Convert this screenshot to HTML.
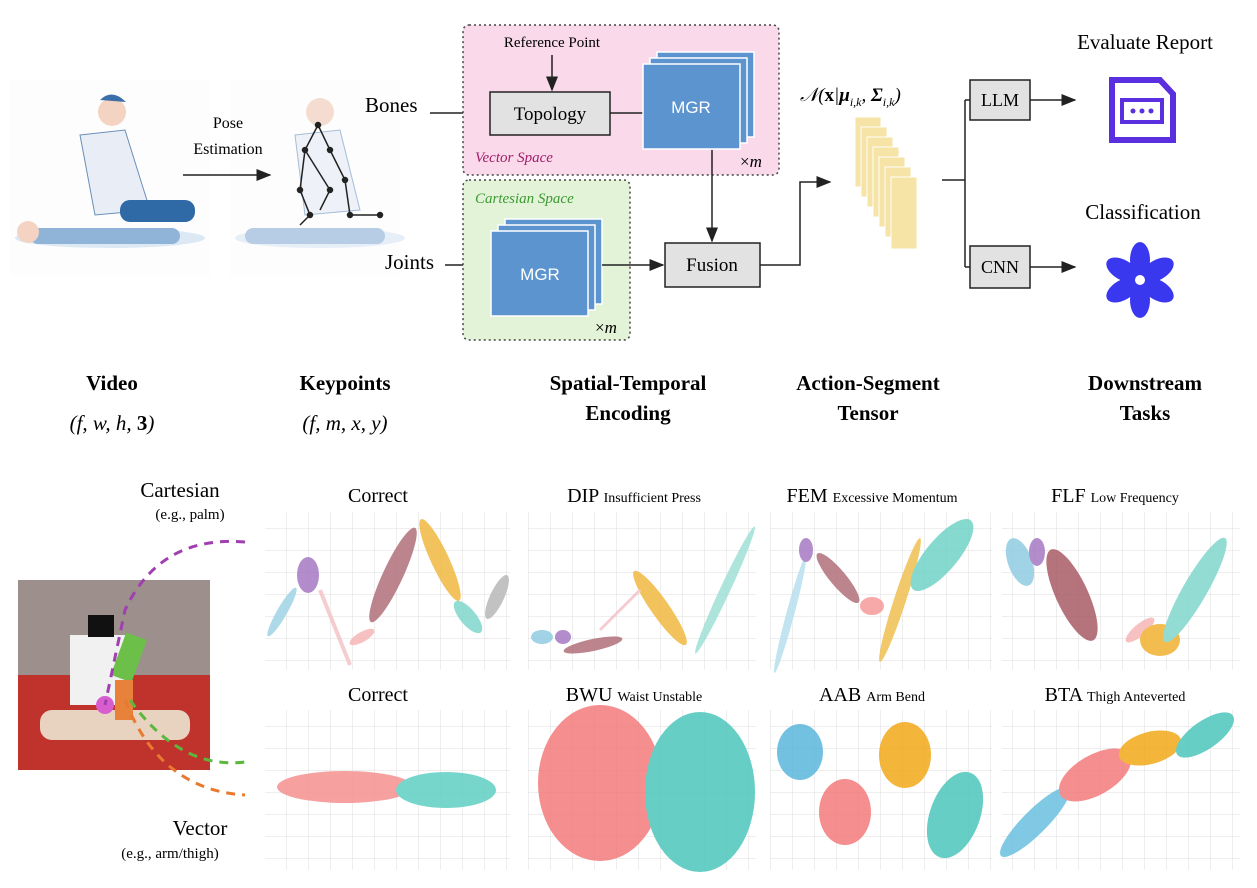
<!DOCTYPE html>
<html><head><meta charset="utf-8"><style>
body{margin:0;background:#fff;}
svg{display:block;font-family:"Liberation Serif",serif;}
.b{font-weight:bold;font-size:21px;}
</style></head><body>
<svg width="1257" height="888" viewBox="0 0 1257 888" xmlns="http://www.w3.org/2000/svg">
<defs>
<marker id="ar" markerWidth="10" markerHeight="10" refX="9" refY="5" orient="auto"><path d="M0,1 L10,5 L0,9 z" fill="#222"/></marker>
<pattern id="grid" width="22" height="22" patternUnits="userSpaceOnUse"><path d="M22 0 L0 0 0 22" fill="none" stroke="#ddd" stroke-width="1"/></pattern>
</defs>

<g>
<rect x="10" y="80" width="200" height="195" fill="#fdfdfd"/>
<ellipse cx="110" cy="238" rx="95" ry="10" fill="#dce9f5"/>
<rect x="30" y="228" width="150" height="16" rx="8" fill="#8fb4d8"/>
<circle cx="28" cy="232" r="11" fill="#f4d3c2"/>
<path d="M80 135 L125 130 L150 210 L95 215 Z" fill="#e9eef6" stroke="#6a8fb8"/>
<circle cx="112" cy="112" r="14" fill="#f4d3c2"/>
<path d="M100 100 Q112 88 126 102" fill="#3b6fa8"/>
<rect x="120" y="200" width="75" height="22" rx="10" fill="#2f6aa6"/>
<rect x="230" y="80" width="170" height="195" fill="#fdfdfd"/>
<ellipse cx="320" cy="238" rx="85" ry="10" fill="#e6eef7"/>
<rect x="245" y="228" width="140" height="16" rx="8" fill="#b7cde5"/>
<path d="M295 135 L340 130 L360 210 L305 215 Z" fill="#eef2f8" stroke="#a5bcd8"/>
<circle cx="320" cy="112" r="14" fill="#f4ddd0"/>
<g stroke="#222" stroke-width="1.5" fill="#222">
<polyline points="318,125 305,150 300,190 310,215 300,225" fill="none"/>
<polyline points="318,125 330,150 345,180 350,215 380,215" fill="none"/>
<polyline points="305,150 330,190 320,210" fill="none"/>
<circle cx="318" cy="125" r="2.5"/><circle cx="305" cy="150" r="2.5"/><circle cx="330" cy="150" r="2.5"/><circle cx="300" cy="190" r="2.5"/><circle cx="345" cy="180" r="2.5"/><circle cx="350" cy="215" r="2.5"/><circle cx="380" cy="215" r="2.5"/><circle cx="310" cy="215" r="2.5"/><circle cx="330" cy="190" r="2.5"/>
</g>
</g>

<text x="228" y="128" font-size="16" text-anchor="middle">Pose</text>
<text x="228" y="154" font-size="16" text-anchor="middle">Estimation</text>
<line x1="183" y1="175" x2="270" y2="175" stroke="#222" stroke-width="1.5" marker-end="url(#ar)"/>

<text x="365" y="112" font-size="21">Bones</text>
<text x="385" y="269" font-size="21">Joints</text>
<line x1="430" y1="113" x2="490" y2="113" stroke="#222" stroke-width="1.5"/>
<line x1="445" y1="265" x2="490" y2="265" stroke="#222" stroke-width="1.5"/>

<rect x="463" y="25" width="316" height="150" rx="6" fill="#f9d9ea" stroke="#444" stroke-width="1.5" stroke-dasharray="2,3"/>
<text x="552" y="47" font-size="15" text-anchor="middle">Reference Point</text>
<line x1="552" y1="55" x2="552" y2="90" stroke="#222" stroke-width="1.5" marker-end="url(#ar)"/>
<rect x="490" y="92" width="120" height="43" fill="#e2e2e2" stroke="#222" stroke-width="1.5"/>
<text x="550" y="120" font-size="19" text-anchor="middle">Topology</text>
<line x1="610" y1="113" x2="643" y2="113" stroke="#222" stroke-width="1.5"/>
<rect x="657" y="52" width="97" height="85" fill="#5b94cf" stroke="#fff" stroke-width="1.5"/>
<rect x="650" y="58" width="97" height="85" fill="#5b94cf" stroke="#fff" stroke-width="1.5"/>
<rect x="643" y="64" width="97" height="85" fill="#5b94cf" stroke="#fff" stroke-width="1.5"/>
<text x="691" y="113" font-size="17" fill="#fff" text-anchor="middle" font-family="Liberation Sans,sans-serif">MGR</text>
<text x="740" y="167" font-size="17">×<tspan font-style="italic">m</tspan></text>
<text x="475" y="162" font-size="15" font-style="italic" fill="#a0206a">Vector Space</text>

<rect x="463" y="180" width="167" height="160" rx="6" fill="#e3f3d8" stroke="#444" stroke-width="1.5" stroke-dasharray="2,3"/>
<text x="475" y="203" font-size="15" font-style="italic" fill="#3c9a32">Cartesian Space</text>
<rect x="505" y="219" width="97" height="85" fill="#5b94cf" stroke="#fff" stroke-width="1.5"/>
<rect x="498" y="225" width="97" height="85" fill="#5b94cf" stroke="#fff" stroke-width="1.5"/>
<rect x="491" y="231" width="97" height="85" fill="#5b94cf" stroke="#fff" stroke-width="1.5"/>
<text x="540" y="280" font-size="17" fill="#fff" text-anchor="middle" font-family="Liberation Sans,sans-serif">MGR</text>
<text x="595" y="333" font-size="17">×<tspan font-style="italic">m</tspan></text>
<line x1="602" y1="265" x2="663" y2="265" stroke="#222" stroke-width="1.5" marker-end="url(#ar)"/>

<line x1="712" y1="150" x2="712" y2="241" stroke="#222" stroke-width="1.5" marker-end="url(#ar)"/>
<rect x="665" y="243" width="95" height="44" fill="#e2e2e2" stroke="#222" stroke-width="1.5"/>
<text x="712" y="271" font-size="19" text-anchor="middle">Fusion</text>
<polyline points="760,265 800,265 800,182 830,182" fill="none" stroke="#222" stroke-width="1.5" marker-end="url(#ar)"/>

<text x="800" y="101" font-size="19" font-style="italic">𝒩(<tspan font-weight="bold" font-style="normal">x</tspan>|<tspan font-weight="bold">μ</tspan><tspan font-size="12" dy="5">i,k</tspan><tspan dy="-5">, </tspan><tspan font-weight="bold">Σ</tspan><tspan font-size="12" dy="5">i,k</tspan><tspan dy="-5">)</tspan></text>
<g fill="#f6e3a6" stroke="#fff" stroke-width="1">
<rect x="855" y="117" width="26" height="70"/><rect x="861" y="127" width="26" height="70"/><rect x="867" y="137" width="26" height="70"/><rect x="873" y="147" width="26" height="70"/><rect x="879" y="157" width="26" height="70"/><rect x="885" y="167" width="26" height="70"/><rect x="891" y="177" width="26" height="72"/>
</g>
<line x1="942" y1="180" x2="965" y2="180" stroke="#222" stroke-width="1.5"/>
<line x1="965" y1="100" x2="965" y2="267" stroke="#222" stroke-width="1.5"/>
<line x1="965" y1="100" x2="970" y2="100" stroke="#222" stroke-width="1.5"/>
<line x1="965" y1="267" x2="970" y2="267" stroke="#222" stroke-width="1.5"/>
<rect x="970" y="80" width="60" height="40" fill="#e2e2e2" stroke="#222" stroke-width="1.5"/>
<text x="1000" y="106" font-size="18" text-anchor="middle">LLM</text>
<rect x="970" y="246" width="60" height="42" fill="#e2e2e2" stroke="#222" stroke-width="1.5"/>
<text x="1000" y="273" font-size="18" text-anchor="middle">CNN</text>
<line x1="1030" y1="100" x2="1075" y2="100" stroke="#222" stroke-width="1.5" marker-end="url(#ar)"/>
<line x1="1030" y1="267" x2="1075" y2="267" stroke="#222" stroke-width="1.5" marker-end="url(#ar)"/>

<text x="1145" y="49" font-size="21" text-anchor="middle">Evaluate Report</text>
<path d="M1112 80 L1160 80 L1173 94 L1173 140 L1112 140 Z" fill="none" stroke="#5a2fe0" stroke-width="6"/>
<rect x="1122" y="100" width="40" height="22" fill="none" stroke="#5a2fe0" stroke-width="4"/>
<circle cx="1133" cy="111" r="2.5" fill="#5a2fe0"/><circle cx="1142" cy="111" r="2.5" fill="#5a2fe0"/><circle cx="1151" cy="111" r="2.5" fill="#5a2fe0"/>
<text x="1143" y="219" font-size="21" text-anchor="middle">Classification</text>
<g fill="#3a38ef" transform="translate(1140,280)">
<ellipse cx="0" cy="-20" rx="10" ry="18"/><ellipse cx="0" cy="-20" rx="10" ry="18" transform="rotate(60)"/><ellipse cx="0" cy="-20" rx="10" ry="18" transform="rotate(120)"/><ellipse cx="0" cy="-20" rx="10" ry="18" transform="rotate(180)"/><ellipse cx="0" cy="-20" rx="10" ry="18" transform="rotate(240)"/><ellipse cx="0" cy="-20" rx="10" ry="18" transform="rotate(300)"/>
<circle r="12"/><circle cx="0" cy="0" r="5" fill="#fff"/>
</g>

<g class="b" text-anchor="middle" font-family="Liberation Serif,serif">
<text x="112" y="390">Video</text>
<text x="345" y="390">Keypoints</text>
<text x="628" y="390">Spatial-Temporal</text>
<text x="628" y="420">Encoding</text>
<text x="868" y="390">Action-Segment</text>
<text x="868" y="420">Tensor</text>
<text x="1145" y="390">Downstream</text>
<text x="1145" y="420">Tasks</text>
</g>
<text x="112" y="430" font-size="21" font-style="italic" text-anchor="middle">(f, w, h, <tspan font-weight="bold" font-style="normal">3</tspan>)</text>
<text x="345" y="430" font-size="21" font-style="italic" text-anchor="middle">(f, m, x, y)</text>

<text x="180" y="497" font-size="21" text-anchor="middle">Cartesian</text>
<text x="190" y="519" font-size="15" text-anchor="middle">(e.g., palm)</text>
<text x="200" y="835" font-size="21" text-anchor="middle">Vector</text>
<text x="170" y="858" font-size="15" text-anchor="middle">(e.g., arm/thigh)</text>
<rect x="18" y="580" width="192" height="190" fill="#8a7b75"/>
<rect x="18" y="580" width="192" height="95" fill="#9c8f8c"/>
<rect x="18" y="675" width="192" height="95" fill="#c0322c"/>
<rect x="40" y="710" width="150" height="30" rx="12" fill="#e8d2c0"/>
<rect x="70" y="635" width="55" height="70" fill="#f1f1f1"/>
<rect x="88" y="615" width="26" height="22" fill="#111"/>
<rect x="118" y="635" width="22" height="45" fill="#6cc04a" transform="rotate(20 129 657)"/>
<rect x="115" y="680" width="18" height="40" fill="#e8823a"/>
<circle cx="105" cy="705" r="9" fill="#d85ed0"/>
<path d="M245 542 Q160 535 125 610 L105 705" fill="none" stroke="#a040b0" stroke-width="3" stroke-dasharray="9,7"/>
<path d="M130 700 Q180 770 245 762" fill="none" stroke="#5cb83c" stroke-width="3" stroke-dasharray="9,7"/>
<path d="M125 700 Q160 790 245 795" fill="none" stroke="#e87a30" stroke-width="3" stroke-dasharray="9,7"/>

<g fill="url(#grid)">
<rect x="265" y="512" width="245" height="158"/><rect x="528" y="512" width="228" height="158"/><rect x="770" y="512" width="222" height="158"/><rect x="1002" y="512" width="238" height="158"/>
<rect x="265" y="710" width="245" height="160"/><rect x="528" y="710" width="228" height="160"/><rect x="770" y="710" width="222" height="160"/><rect x="1002" y="710" width="238" height="160"/>
</g>
<g font-size="20" text-anchor="middle">
<text x="378" y="502">Correct</text>
<text x="634" y="502">DIP <tspan font-size="14">Insufficient Press</tspan></text>
<text x="872" y="502">FEM <tspan font-size="14">Excessive Momentum</tspan></text>
<text x="1115" y="502">FLF <tspan font-size="14">Low Frequency</tspan></text>
<text x="378" y="701">Correct</text>
<text x="634" y="701">BWU <tspan font-size="14">Waist Unstable</tspan></text>
<text x="872" y="701">AAB <tspan font-size="14">Arm Bend</tspan></text>
<text x="1115" y="701">BTA <tspan font-size="14">Thigh Anteverted</tspan></text>
</g>
<g opacity="0.85">
<ellipse cx="282" cy="612" rx="5" ry="28" fill="#9fd3e6" transform="rotate(30 282 612)"/>
<line x1="320" y1="590" x2="350" y2="665" stroke="#f4c4c8" stroke-width="4"/>
<ellipse cx="308" cy="575" rx="11" ry="18" fill="#a679c2"/>
<ellipse cx="393" cy="575" rx="10" ry="52" fill="#b0707a" transform="rotate(25 393 575)"/>
<ellipse cx="440" cy="560" rx="9" ry="45" fill="#f0b840" transform="rotate(-25 440 560)"/>
<ellipse cx="468" cy="617" rx="8" ry="20" fill="#7fd6cc" transform="rotate(-40 468 617)"/>
<ellipse cx="497" cy="597" rx="7" ry="24" fill="#b8b8b8" transform="rotate(25 497 597)"/>
<ellipse cx="362" cy="637" rx="5" ry="14" fill="#f6b6b6" transform="rotate(60 362 637)"/>
<ellipse cx="542" cy="637" rx="11" ry="7" fill="#8fcbe2"/>
<ellipse cx="563" cy="637" rx="8" ry="7" fill="#a679c2"/>
<ellipse cx="593" cy="645" rx="30" ry="6" fill="#b0707a" transform="rotate(-12 593 645)"/>
<ellipse cx="660" cy="608" rx="9" ry="45" fill="#f0b840" transform="rotate(-35 660 608)"/>
<ellipse cx="725" cy="590" rx="5" ry="70" fill="#9fe0d6" transform="rotate(25 725 590)"/>
<line x1="600" y1="630" x2="640" y2="590" stroke="#f4c4c8" stroke-width="3"/>
<ellipse cx="790" cy="615" rx="4" ry="60" fill="#b6e0ee" transform="rotate(15 790 615)"/>
<ellipse cx="806" cy="550" rx="7" ry="12" fill="#a679c2"/>
<ellipse cx="838" cy="578" rx="8" ry="32" fill="#b0707a" transform="rotate(-40 838 578)"/>
<ellipse cx="872" cy="606" rx="12" ry="9" fill="#f69a9a"/>
<ellipse cx="900" cy="600" rx="6" ry="65" fill="#f0c050" transform="rotate(18 900 600)"/>
<ellipse cx="942" cy="555" rx="16" ry="45" fill="#6fd2c6" transform="rotate(40 942 555)"/>
<ellipse cx="1020" cy="562" rx="12" ry="25" fill="#8fcbe2" transform="rotate(-20 1020 562)"/>
<ellipse cx="1037" cy="552" rx="8" ry="14" fill="#a679c2"/>
<ellipse cx="1072" cy="595" rx="16" ry="50" fill="#a85a64" transform="rotate(-25 1072 595)"/>
<ellipse cx="1140" cy="630" rx="6" ry="18" fill="#f6b6b6" transform="rotate(50 1140 630)"/>
<ellipse cx="1160" cy="640" rx="20" ry="16" fill="#f0b030"/>
<ellipse cx="1195" cy="590" rx="12" ry="60" fill="#7fd6cc" transform="rotate(30 1195 590)"/>
<ellipse cx="345" cy="787" rx="68" ry="16" fill="#f58f8f"/>
<ellipse cx="446" cy="790" rx="50" ry="18" fill="#5fcfc3"/>
<ellipse cx="600" cy="783" rx="62" ry="78" fill="#f47a7a"/>
<ellipse cx="700" cy="792" rx="55" ry="80" fill="#4cc6bb"/>
<ellipse cx="800" cy="752" rx="23" ry="28" fill="#5ab6dc"/>
<ellipse cx="905" cy="755" rx="26" ry="33" fill="#f2a818"/>
<ellipse cx="845" cy="812" rx="26" ry="33" fill="#f47a7a"/>
<ellipse cx="955" cy="815" rx="25" ry="45" fill="#4cc6bb" transform="rotate(20 955 815)"/>
<ellipse cx="1035" cy="822" rx="12" ry="48" fill="#6ac0e0" transform="rotate(45 1035 822)"/>
<ellipse cx="1095" cy="775" rx="20" ry="40" fill="#f47a7a" transform="rotate(60 1095 775)"/>
<ellipse cx="1150" cy="748" rx="16" ry="32" fill="#f2a818" transform="rotate(75 1150 748)"/>
<ellipse cx="1205" cy="735" rx="14" ry="34" fill="#4cc6bb" transform="rotate(55 1205 735)"/>
</g>
</svg>
</body></html>
